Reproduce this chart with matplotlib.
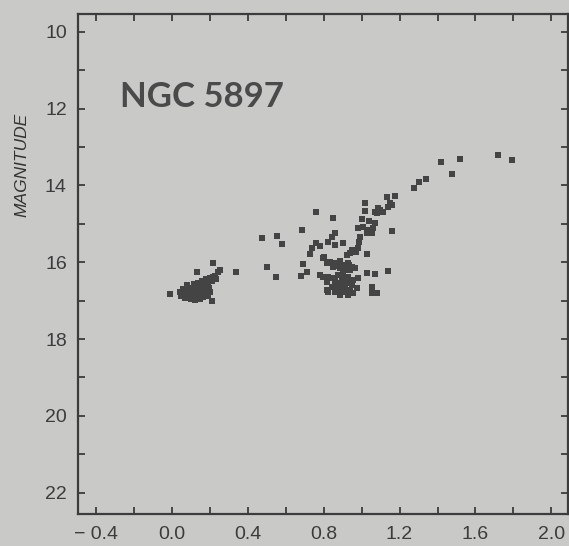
# Colour-magnitude diagram of NGC 5897, redrawn from a scanned figure

import matplotlib.pyplot as plt

# B-V colour and V magnitude of each star
# horizontal branch (blue clump near B-V ~ 0.1)
hb_bv = [0.045, 0.05, 0.06, 0.065, 0.07, 0.08, 0.085, 0.09,
         0.10, 0.105, 0.11, 0.115, 0.12, 0.125, 0.13, 0.135, 0.14, 0.14,
         0.145, 0.15, 0.155, 0.16, 0.165, 0.17, 0.17, 0.175, 0.18, 0.185,
         0.19, 0.19, 0.195, 0.20, 0.12, 0.15, 0.10,
         0.11, 0.125, 0.14, 0.155, 0.17, 0.185, 0.13, 0.16, 0.175, 0.115,
         0.16, 0.18, 0.20, 0.21, 0.215, 0.225, 0.23,
         -0.01, 0.13, 0.216, 0.242, 0.253, 0.211, 0.337, 0.50]
hb_mag = [16.78, 16.88, 16.70, 16.82, 16.94, 16.60, 16.76, 16.88,
          16.66, 16.80, 16.92, 16.56, 16.72, 16.86, 16.64, 16.78, 16.94, 16.54,
          16.70, 16.84, 16.62, 16.76, 16.90, 16.50, 16.68, 16.82, 16.60, 16.74,
          16.88, 16.54, 16.66, 16.78, 16.98, 16.97, 16.96,
          16.74, 16.60, 16.86, 16.72, 16.58, 16.68, 16.90, 16.82, 16.74, 16.84,
          16.48, 16.45, 16.42, 16.50, 16.38, 16.35, 16.44,
          16.84, 16.26, 16.03, 16.26, 16.21, 17.00, 16.26, 16.13]

# subgiants, red clump and giant branch
rg_bv = [0.474, 0.553, 0.579, 0.547,
         0.684, 0.758, 0.847,
         0.737, 0.758, 0.779, 0.726, 0.821, 0.800,
         0.689, 0.711, 0.679, 0.779, 0.811, 0.816, 0.816,
         0.795, 0.795, 0.858, 0.842, 0.858,
         0.900, 0.947, 0.968, 0.979, 1.026, 0.921, 0.937,
         0.832, 0.858, 0.884, 0.900, 0.926, 0.947, 0.963, 0.884, 0.911, 0.937, 0.847,
         0.821, 0.847, 0.874, 0.900, 0.926, 0.953, 0.868, 0.895, 0.921, 0.947,
         0.974, 0.842, 0.821, 0.858, 0.884, 0.911, 0.937, 0.953, 0.926, 0.884, 0.816,
         0.870, 0.905, 0.935, 0.860, 0.895, 0.915, 0.940, 0.870, 0.900,
         0.979, 1.026, 1.068, 1.137, 1.053, 1.053, 1.053, 1.079,
         1.000, 1.037, 1.068, 0.979, 1.005, 1.032, 1.058, 1.053, 1.026, 1.158,
         0.989, 0.984,
         1.016, 1.016, 1.147, 1.137, 1.111, 1.095, 1.079, 1.084, 1.068, 1.158,
         1.132, 1.174,
         1.274, 1.305, 1.337, 1.421, 1.479, 1.516, 1.721, 1.795]
rg_mag = [15.37, 15.32, 15.53, 16.39,
          15.17, 14.70, 14.85,
          15.64, 15.50, 15.58, 15.79, 15.48, 15.87,
          16.05, 16.26, 16.37, 16.34, 16.39, 16.03, 16.73,
          15.90, 16.39, 15.24, 15.35, 15.56,
          15.50, 15.69, 15.74, 15.64, 15.79, 15.82, 15.77,
          16.00, 16.03, 15.97, 16.08, 16.03, 16.13, 16.16, 16.16, 16.21, 16.21, 16.13,
          16.39, 16.42, 16.34, 16.42, 16.39, 16.47, 16.55, 16.60, 16.55, 16.60,
          16.68, 16.65, 16.78, 16.78, 16.73, 16.78, 16.73, 16.81, 16.86, 16.86, 16.52,
          16.10, 16.12, 16.08, 16.48, 16.50, 16.68, 16.50, 16.70, 16.30,
          16.42, 16.29, 16.31, 16.22, 16.65, 16.73, 16.81, 16.81,
          14.88, 14.93, 14.98, 15.11, 15.09, 15.17, 15.11, 15.24, 15.24, 15.19,
          15.35, 15.48,
          14.46, 14.67, 14.46, 14.57, 14.70, 14.64, 14.72, 14.59, 14.70, 14.51,
          14.30, 14.28,
          14.07, 13.91, 13.84, 13.39, 13.70, 13.31, 13.21, 13.34]

x_ticks = [-0.4, 0.0, 0.4, 0.8, 1.2, 1.6, 2.0]
x_labels = ['\u2212 0.4', '0.0', '0.4', '0.8', '1.2', '1.6', '2.0']
y_ticks = [10, 12, 14, 16, 18, 20, 22]

bg = '#c9c9c7'
ink = '#3c3c3c'

plt.rcParams['font.family'] = ['Liberation Sans', 'DejaVu Sans']

fig = plt.figure(figsize=(5.69, 5.46), dpi=100, facecolor=bg)
ax = fig.add_axes([0.137, 0.059, 0.862, 0.916], facecolor=bg)

ax.scatter(hb_bv, hb_mag, s=14, marker='s', color='#444444', linewidths=0)
ax.scatter(rg_bv, rg_mag, s=14, marker='s', color='#444444', linewidths=0)

ax.set_xlim(-0.495, 2.09)
ax.set_ylim(22.55, 9.53)

ax.set_xticks(x_ticks)
ax.set_xticklabels(x_labels)
ax.set_xticks([-0.2, 0.2, 0.6, 1.0, 1.4, 1.8], minor=True)
ax.set_yticks(y_ticks)
ax.set_yticks([11, 13, 15, 17, 19, 21], minor=True)

for which in ['major', 'minor']:
    ax.tick_params(which=which, direction='in', length=5, width=1.3, color=ink,
                   top=True, right=True)
ax.tick_params(axis='both', labelsize=14, labelcolor=ink)
ax.tick_params(axis='x', pad=9)
ax.tick_params(axis='y', pad=8)

for sp in ax.spines.values():
    sp.set_linewidth(1.6)
    sp.set_color(ink)

fig.text(0.039, 0.698, 'MAGNITUDE', rotation=90, style='italic', fontsize=12.5,
         color='#333333', ha='center', va='center')
ax.text(0.085, 0.814, 'NGC 5897', transform=ax.transAxes, fontsize=25,
        family='Lato', weight='bold', color='#4a4a4a', ha='left', va='baseline')

fig.savefig('out.png', dpi=100, facecolor=bg)
